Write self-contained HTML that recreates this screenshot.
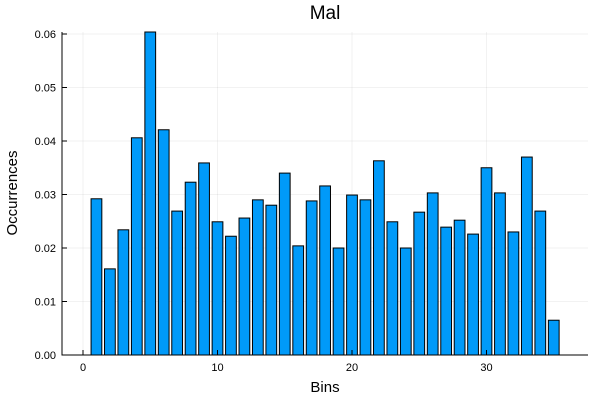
<!DOCTYPE html>
<html><head><meta charset="utf-8"><style>
html,body{margin:0;padding:0;background:#fff;}
svg text{font-family:"Liberation Sans",sans-serif;}
</style></head><body>
<svg id="chart" width="600" height="400" xmlns="http://www.w3.org/2000/svg">
<rect width="600" height="400" fill="#fff"/>
<g id="grid"></g>
<g id="bars"></g>
<g id="axes"></g>
<text x="325" y="19" font-size="19" text-anchor="middle">Mal</text>
<text x="325" y="392" font-size="15" text-anchor="middle">Bins</text>
<text x="17" y="193" font-size="15" text-anchor="middle" transform="rotate(-90 17 193)">Occurrences</text>
</svg>
<script>
const categories=[1,2,3,4,5,6,7,8,9,10,11,12,13,14,15,16,17,18,19,20,21,22,23,24,25,26,27,28,29,30,31,32,33,34,35];
const values=[0.0292,0.0161,0.0234,0.0406,0.0606,0.0421,0.0269,0.0323,0.0359,0.0249,0.0222,0.0256,0.029,0.028,0.034,0.0204,0.0288,0.0316,0.02,0.0299,0.029,0.0363,0.0249,0.02,0.0267,0.0303,0.0239,0.0252,0.0226,0.035,0.0303,0.023,0.037,0.0269,0.0065];
const xTicks=[0,10,20,30];
const yTicks=[0,0.01,0.02,0.03,0.04,0.05,0.06];
const yLabels=["0.00","0.01","0.02","0.03","0.04","0.05","0.06"];
const NS="http://www.w3.org/2000/svg";
const L=62,R=588,T=32,B=355;
const xs=v=>83+v*13.45;
const ys=v=>355-v*5350;
function mk(tag,attrs,parent){const e=document.createElementNS(NS,tag);for(const k in attrs)e.setAttribute(k,attrs[k]);parent.appendChild(e);return e;}
const grid=document.getElementById('grid'),bars=document.getElementById('bars'),axes=document.getElementById('axes');
xTicks.forEach(t=>{
  const g=mk('line',{x1:xs(t),x2:xs(t),y1:T,y2:B,stroke:'#000','stroke-opacity':0.1,'stroke-width':0.5},grid);
  
  
  const tk=mk('line',{x1:xs(t),x2:xs(t),y1:B,y2:B-5,stroke:'#000','stroke-width':1},axes);
  
  
  const tx=mk('text',{x:xs(t),y:B+16,'font-size':11,'text-anchor':'middle',fill:'#000'},axes);
  tx.textContent=t;
  
  
});
yTicks.forEach((t,i)=>{
  const g=mk('line',{x1:L,x2:R,y1:ys(t),y2:ys(t),stroke:'#000','stroke-opacity':0.1,'stroke-width':0.5},grid);
  
  
  const tk=mk('line',{x1:L,x2:L+5,y1:ys(t),y2:ys(t),stroke:'#000','stroke-width':1},axes);
  
  
  const tx=mk('text',{x:L-6,y:ys(t)+4,'font-size':11,'text-anchor':'end',fill:'#000'},axes);
  tx.textContent=yLabels[i];
  
  
});
const bw=0.8*13.45;
categories.forEach((c,i)=>{
  const top=Math.max(ys(values[i]),T);
  const r=mk('rect',{x:xs(c)-bw/2,y:top,width:bw,height:B-top,fill:'#009af9',stroke:'#000','stroke-width':1},bars);
  
  
});
const ax=mk('path',{d:`M${L},${T} L${L},${B} L${R},${B}`,fill:'none',stroke:'#000','stroke-width':1},axes);


</script>
</body></html>
